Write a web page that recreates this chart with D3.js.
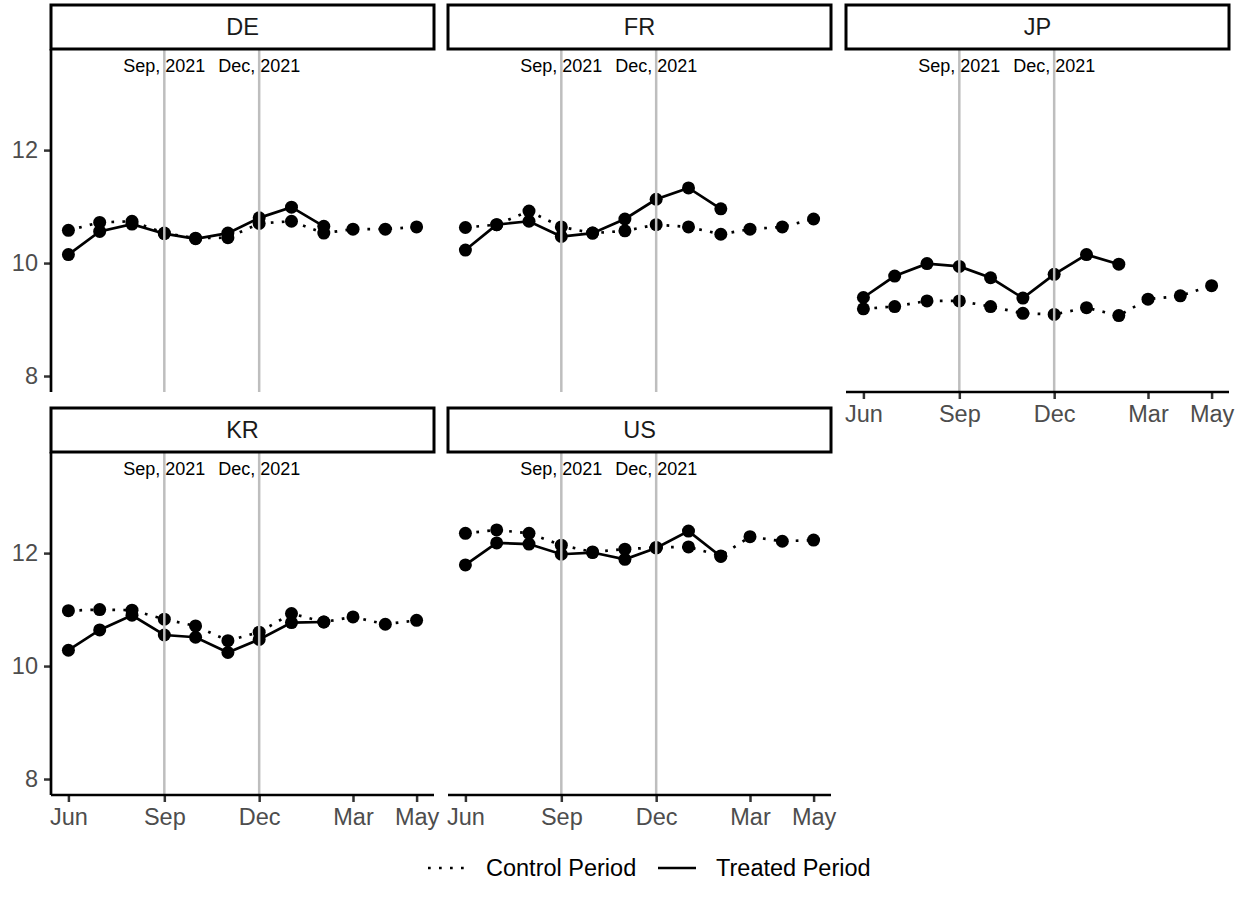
<!DOCTYPE html>
<html>
<head>
<meta charset="utf-8">
<script src="https://cdn.jsdelivr.net/npm/d3@7"></script>
<style>
  body { margin: 0; background: #fff; }
  text { font-family: "Liberation Sans", Arial, sans-serif; }
</style>
</head>
<body>
<div id="chart"></div>
<script>
// monthly points, Jun 2021 .. May 2022
const months = ['2021-06','2021-07','2021-08','2021-09','2021-10','2021-11',
                '2021-12','2022-01','2022-02','2022-03','2022-04','2022-05'];
const countries = ['DE','FR','JP','KR','US'];

// control period (12 months)
const controlDE = [10.58,10.72,10.74,10.53,10.44,10.45,10.70,10.74,10.53,10.60,10.60,10.64];
const controlFR = [10.63,10.68,10.92,10.64,10.53,10.57,10.68,10.64,10.51,10.60,10.64,10.78];
const controlJP = [9.19,9.23,9.33,9.33,9.23,9.11,9.09,9.21,9.07,9.36,9.42,9.60];
const controlKR = [10.98,11.00,10.99,10.83,10.71,10.45,10.60,10.93,10.78,10.87,10.74,10.81];
const controlUS = [12.35,12.41,12.35,12.14,12.02,12.07,12.10,12.11,11.95,12.29,12.21,12.23];

// treated period (Jun .. Feb)
const treatedDE = [10.15,10.56,10.69,10.52,10.43,10.53,10.80,10.99,10.65];
const treatedFR = [10.23,10.68,10.74,10.47,10.53,10.78,11.13,11.33,10.96];
const treatedJP = [9.39,9.77,9.99,9.94,9.74,9.38,9.80,10.15,9.98];
const treatedKR = [10.28,10.64,10.90,10.55,10.51,10.24,10.47,10.77,10.78];
const treatedUS = [11.79,12.18,12.16,11.98,12.01,11.89,12.09,12.39,11.94];

const eventDates = ['2021-09','2021-12'];
const eventLabels = ['Sep, 2021','Dec, 2021'];
const annotY = 13.49;

const xTicks = ['2021-06','2021-09','2021-12','2022-03','2022-05'];
const yTicks = [8,10,12];
const yDomain = [7.717,13.79];

const legendLabels = ['Control Period','Treated Period'];

const parseMonth = d3.timeParse('%Y-%m');

const controlData = {DE:controlDE, FR:controlFR, JP:controlJP, KR:controlKR, US:controlUS};
const treatedData = {DE:treatedDE, FR:treatedFR, JP:treatedJP, KR:treatedKR, US:treatedUS};

const width = 1242, height = 913;
const colX = [51,448,846], panelW = 383;
const rowTop = [5,408], stripH = 44, panelH = 343;
const fontSize = '23.5px';

const svg = d3.select('#chart')
              .append('svg')
              .attr('width',width)
              .attr('height',height);

const dateExtent = [parseMonth(months[0]), parseMonth(months[months.length-1])];
const pad = panelW*0.05/1.1;

countries.forEach((c,i)=>{
    let row = Math.floor(i/3), col = i%3;
    let x0 = colX[col], top = rowTop[row]+stripH, bottom = top+panelH;

    let scaleX = d3.scaleTime().domain(dateExtent).range([x0+pad, x0+panelW-pad]);
    let scaleY = d3.scaleLinear().domain(yDomain).range([bottom, top]);

    let g = svg.append('g').attr('class','panel');

    let line = d3.line()
                 .x(d=>scaleX(d.date))
                 .y(d=>scaleY(d.value));

    let ctrl = controlData[c].map((v,k)=>({date:parseMonth(months[k]), value:v}));
    let trt = treatedData[c].map((v,k)=>({date:parseMonth(months[k]), value:v}));

    g.append('path')
        .datum(ctrl)
        .attr('d',line)
        .style('fill','none')
        .style('stroke','#000')
        .style('stroke-width',2.7)
        .style('stroke-dasharray','2.7,8.3');

    g.append('path')
        .datum(trt)
        .attr('d',line)
        .style('fill','none')
        .style('stroke','#000')
        .style('stroke-width',2.7);

    g.selectAll('.pt')
        .data(ctrl.concat(trt))
        .enter()
        .append('circle')
        .attr('cx',d=>scaleX(d.date))
        .attr('cy',d=>scaleY(d.value))
        .attr('r',6.5)
        .style('fill','#000');

    // event lines
    g.selectAll('.vline')
        .data(eventDates)
        .enter()
        .append('line')
        .attr('x1',d=>scaleX(parseMonth(d)))
        .attr('x2',d=>scaleX(parseMonth(d)))
        .attr('y1',top)
        .attr('y2',bottom)
        .style('stroke','#BEBEBE')
        .style('stroke-width',2.5);

    g.selectAll('.annot')
        .data(eventDates)
        .enter()
        .append('text')
        .attr('x',d=>scaleX(parseMonth(d)))
        .attr('y',scaleY(annotY))
        .attr('dy','0.35em')
        .style('text-anchor','middle')
        .style('font-size','18px')
        .style('fill','#000')
        .text((d,k)=>eventLabels[k]);

    // strip
    g.append('rect')
        .attr('x',x0)
        .attr('y',rowTop[row])
        .attr('width',panelW)
        .attr('height',stripH)
        .style('fill','#fff')
        .style('stroke','#000')
        .style('stroke-width',3);

    g.append('text')
        .attr('x',x0+panelW/2)
        .attr('y',rowTop[row]+stripH/2)
        .attr('dy','0.35em')
        .style('text-anchor','middle')
        .style('font-size',fontSize)
        .style('fill','#1A1A1A')
        .text(c);

    // y axis on first column
    if (col==0){
        let yAxis = d3.axisLeft(scaleY).tickValues(yTicks).tickFormat(d3.format('d'))
                      .tickSize(7).tickPadding(6);
        let yg = g.append('g')
                  .attr('transform','translate('+x0+',0)')
                  .call(yAxis);
        yg.select('.domain').remove();
        yg.selectAll('line').style('stroke','#333').style('stroke-width',2.5);
        yg.selectAll('text').style('font-size',fontSize).style('fill','#4D4D4D')
          .style('font-family','"Liberation Sans", Arial, sans-serif');
        g.append('line')
            .attr('x1',x0).attr('x2',x0)
            .attr('y1',top).attr('y2',bottom)
            .style('stroke','#000')
            .style('stroke-width',2.7);
    }

    // x axis where nothing sits below
    if (row==1 || col==2){
        let xAxis = d3.axisBottom(scaleX)
                      .tickValues(xTicks.map(parseMonth))
                      .tickFormat(d3.timeFormat('%b'))
                      .tickSize(7)
                      .tickPadding(6);
        let xg = g.append('g')
                  .attr('transform','translate(0,'+bottom+')')
                  .call(xAxis);
        xg.select('.domain').remove();
        xg.selectAll('line').style('stroke','#333').style('stroke-width',2.5);
        xg.selectAll('text').style('font-size',fontSize).style('fill','#4D4D4D')
          .style('font-family','"Liberation Sans", Arial, sans-serif');
        g.append('line')
            .attr('x1',x0).attr('x2',x0+panelW)
            .attr('y1',bottom).attr('y2',bottom)
            .style('stroke','#000')
            .style('stroke-width',2.7);
    }
});

// legend
const legendY = 868;
const legendKeys = [{x:428, dash:'2.7,8.3'}, {x:658, dash:null}];

let legend = svg.append('g').attr('class','legend');

legend.selectAll('.key')
    .data(legendKeys)
    .enter()
    .append('line')
    .attr('x1',d=>d.x)
    .attr('x2',d=>d.x+38)
    .attr('y1',legendY)
    .attr('y2',legendY)
    .style('stroke','#000')
    .style('stroke-width',2.7)
    .style('stroke-dasharray',d=>d.dash);

legend.selectAll('.lab')
    .data(legendLabels)
    .enter()
    .append('text')
    .attr('x',(d,k)=>legendKeys[k].x+58)
    .attr('y',legendY)
    .attr('dy','0.35em')
    .style('font-size',fontSize)
    .style('fill','#000')
    .text(d=>d);
</script>
</body>
</html>
